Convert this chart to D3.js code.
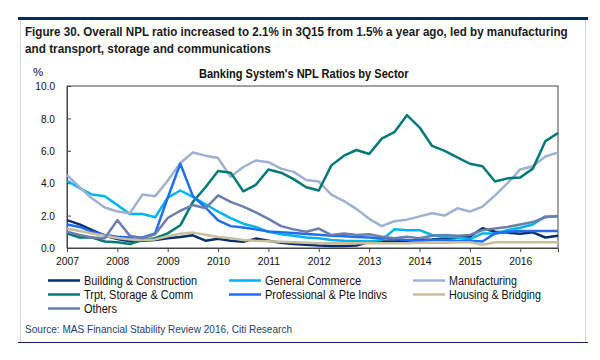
<!DOCTYPE html>
<html><head><meta charset="utf-8">
<script src="https://cdn.jsdelivr.net/npm/d3@7"></script>
<style>
html,body{margin:0;padding:0;background:#fff;}
svg{display:block;}
text{font-family:'Liberation Sans',Arial,sans-serif;}
</style></head>
<body>
<svg id="chart" width="600" height="360"></svg>
<script>
// ---- data (quarterly, 1Q07 .. 4Q16) ----
const years = ["2007","2008","2009","2010","2011","2012","2013","2014","2015","2016"];
const yTicks = [0, 2, 4, 6, 8, 10];
const seriesNames = ["Building & Construction","General Commerce","Manufacturing","Trpt, Storage & Comm","Professional & Pte Indivs","Housing & Bridging","Others"];
const building = [1.72,1.46,1.1,0.77,0.55,0.41,0.44,0.5,0.6,0.68,0.78,0.45,0.57,0.45,0.38,0.58,0.45,0.33,0.25,0.2,0.15,0.12,0.12,0.15,0.38,0.4,0.4,0.45,0.5,0.53,0.58,0.65,0.7,1.22,1.0,0.95,0.88,0.97,0.65,0.75];
const commerce = [4.15,3.7,3.3,3.2,2.65,2.1,2.1,1.9,3.1,3.55,3.15,2.7,2.25,1.85,1.5,1.3,1.0,0.85,0.75,0.65,0.6,0.5,0.45,0.43,0.4,0.5,1.15,1.1,1.1,0.8,0.7,0.65,0.55,0.9,0.9,1.1,1.25,1.45,1.95,1.95];
const manufacturing = [4.5,3.75,3.05,2.5,2.25,2.15,3.3,3.2,4.15,5.25,5.9,5.7,5.55,4.4,5.0,5.4,5.3,4.9,4.7,4.2,4.1,3.3,2.9,2.4,1.8,1.35,1.65,1.75,1.95,2.15,2.0,2.45,2.25,2.55,3.25,4.0,4.85,5.05,5.65,5.9];
const transport = [0.9,0.65,0.65,0.4,0.35,0.25,0.5,0.6,0.9,1.4,2.85,3.75,4.75,4.65,3.5,3.9,4.85,4.65,4.25,3.75,3.55,5.1,5.7,6.05,5.8,6.75,7.15,8.2,7.45,6.3,6.0,5.6,5.2,5.05,4.1,4.3,4.35,4.9,6.6,7.1];
const professional = [1.45,1.3,1.0,0.8,0.7,0.65,0.65,0.9,3.1,5.2,3.2,2.5,1.7,1.35,1.27,1.15,1.02,0.98,0.93,0.87,0.82,0.76,0.72,0.68,0.65,0.6,0.55,0.5,0.45,0.5,0.5,0.45,0.45,0.4,0.9,1.0,1.05,1.05,1.05,1.05];
const housing = [1.2,1.05,0.9,0.75,0.62,0.53,0.5,0.53,0.73,0.88,0.95,0.82,0.68,0.6,0.5,0.45,0.42,0.38,0.35,0.33,0.3,0.3,0.3,0.3,0.3,0.3,0.3,0.3,0.32,0.32,0.33,0.35,0.35,0.2,0.35,0.35,0.35,0.35,0.35,0.35];
const others = [1.0,0.8,0.65,0.6,1.72,0.75,0.6,0.85,1.85,2.3,2.65,2.45,3.25,2.85,2.55,2.2,1.8,1.35,1.15,1.0,1.2,0.8,0.9,0.8,0.85,0.7,0.6,0.7,0.6,0.75,0.8,0.75,0.8,1.1,1.2,1.3,1.45,1.6,1.9,1.97];
const seriesValues = [building, commerce, manufacturing, transport, professional, housing, others];
const colors = ["#0b2d6e","#00b4ef","#a0b1d0","#007a76","#1f6ef2","#c8bf9c","#6b7faa"];

const svg = d3.select("#chart");
svg.append("rect").attr("width",600).attr("height",360).attr("fill","#fff");

// emulate a condensed face: squeeze each text to a share of its natural width
function condense(sel, ratio){
  sel.each(function(){
    const w = this.getComputedTextLength();
    d3.select(this).attr("textLength", (w*ratio).toFixed(1)).attr("lengthAdjust","spacingAndGlyphs");
  });
}
function fitTo(sel, width){
  sel.attr("textLength", width).attr("lengthAdjust","spacingAndGlyphs");
}
// place a text at (px,py) horizontally scaled to a target width
function scaledText(px, py, str, size, weight, fill, width){
  const g = svg.append("g");
  const t = g.append("text").attr("x",0).attr("y",0).attr("font-size",size)
    .attr("font-weight",weight).attr("fill",fill).text(str);
  const w = t.node().getComputedTextLength();
  g.attr("transform",`translate(${px},${py}) scale(${(width/w).toFixed(4)},1)`);
  return t;
}

// frame
svg.append("rect").attr("x",18).attr("y",17).attr("width",570).attr("height",3).attr("fill","#0b2a5e");
svg.append("line").attr("x1",20.5).attr("x2",20.5).attr("y1",20).attr("y2",342).attr("stroke","#d4d4d4");
svg.append("line").attr("x1",585.5).attr("x2",585.5).attr("y1",20).attr("y2",342).attr("stroke","#d4d4d4");
svg.append("line").attr("x1",18).attr("x2",588).attr("y1",342.5).attr("y2",342.5).attr("stroke","#0b2a5e");

// titles
scaledText(25, 36, "Figure 30. Overall NPL ratio increased to 2.1% in 3Q15 from 1.5% a year ago, led by manufacturing", 13, "bold", "#1a1a1a", 543);
scaledText(25, 52.5, "and transport, storage and communications", 13, "bold", "#1a1a1a", 246);
scaledText(199, 78, "Banking System's NPL Ratios by Sector", 12, "bold", "#111", 210);
svg.append("text").attr("x",33).attr("y",76).attr("font-size",11.5).attr("fill","#111").text("%");

// plot
const L = 67, R = 558, T = 86, B = 248;
const x = d3.scaleLinear().domain([0, 39]).range([L, R]);
const y = d3.scaleLinear().domain([0, 10]).range([B, T]);

svg.append("rect").attr("x",L).attr("y",T).attr("width",R-L).attr("height",B-T)
  .attr("fill","none").attr("stroke","#444").attr("stroke-width",1);

const yAxis = d3.axisLeft(y).tickValues(yTicks).tickSize(-4).tickPadding(12).tickFormat(d3.format(".1f"));
const gy = svg.append("g").attr("transform",`translate(${L},0)`).call(yAxis);
gy.select(".domain").attr("stroke","#444");
gy.selectAll(".tick line").attr("stroke","#444");
gy.selectAll("text").attr("font-size",11.5).attr("fill","#111").attr("font-family","'Liberation Sans',Arial,sans-serif");
condense(gy.selectAll("text"), 0.88);

const xAxis = d3.axisBottom(x).tickValues(years.map((d,i)=>i*4)).tickFormat((d,i)=>years[i]).tickSize(4).tickPadding(5);
const gx = svg.append("g").attr("transform",`translate(0,${B})`).call(xAxis);
gx.select(".domain").attr("stroke","#444");
gx.selectAll(".tick line").attr("stroke","#444");
gx.selectAll("text").attr("font-size",11.5).attr("fill","#111").attr("font-family","'Liberation Sans',Arial,sans-serif");
condense(gx.selectAll("text"), 0.9);

const line = d3.line().x((d,i)=>x(i)).y(d=>y(d));
seriesValues.forEach((vals,k)=>{
  svg.append("path").datum(vals).attr("d",line).attr("fill","none")
    .attr("stroke",colors[k]).attr("stroke-width",2.5).attr("stroke-linejoin","round");
});

// legend
const legPos = [[48,280.5],[229,280.5],[413,280.5],[48,294.5],[229,294.5],[413,294.5],[48,308.5]];
const legWidths = [113, 96, 68, 109, 122, 92, 33];
seriesNames.forEach((name,k)=>{
  const [lx,ly] = legPos[k];
  svg.append("line").attr("x1",lx).attr("x2",lx+32).attr("y1",ly).attr("y2",ly)
    .attr("stroke",colors[k]).attr("stroke-width",2.5);
  fitTo(svg.append("text").attr("x",lx+36).attr("y",ly+4.3).attr("font-size",12).attr("fill","#111").text(name), legWidths[k]);
});

fitTo(svg.append("text").attr("x",25).attr("y",333).attr("font-size",10.5).attr("fill","#25406e")
  .text("Source: MAS Financial Stability Review 2016, Citi Research"), 267);
</script>
</body></html>
